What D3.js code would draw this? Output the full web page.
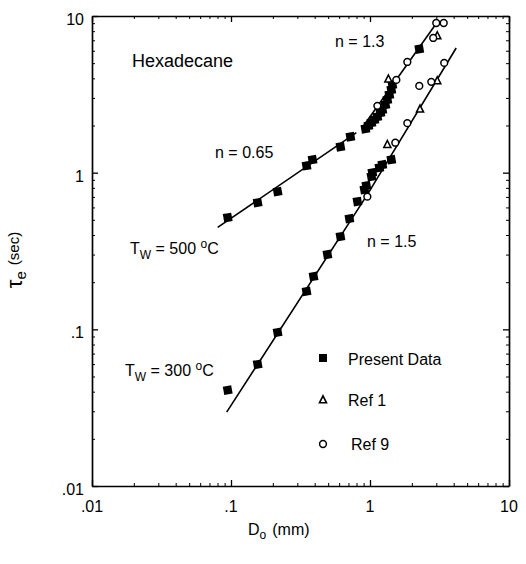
<!DOCTYPE html>
<html>
<head>
<meta charset="utf-8">
<script src="https://cdn.jsdelivr.net/npm/d3@7"></script>
<style>
  html, body { margin: 0; padding: 0; background: #fff; }
  svg { display: block; font-family: "Liberation Sans", Arial, Helvetica, sans-serif; }
</style>
</head>
<body>
<svg id="chart" width="526" height="564"></svg>
<script>
// ---- Data ----
const xTickValues = [0.01, 0.1, 1, 10];
const xTickLabels = [".01", ".1", "1", "10"];
const yTickValues = [0.01, 0.1, 1, 10];
const yTickLabels = [".01", ".1", "1", "10"];

// Present Data, Tw = 500 C
const present500X = [0.0947, 0.1555, 0.2164, 0.3495, 0.386, 0.613, 0.723, 0.927, 0.974, 1.024, 1.076, 1.13, 1.188, 1.227, 1.29, 1.333, 1.378, 1.424, 1.448, 2.262];
const present500Y = [0.517, 0.644, 0.757, 1.108, 1.21, 1.464, 1.696, 1.906, 1.992, 2.082, 2.176, 2.273, 2.411, 2.519, 2.711, 2.917, 3.14, 3.38, 3.64, 6.16];
// Present Data, Tw = 300 C
const present300X = [0.0947, 0.1555, 0.2164, 0.3495, 0.3925, 0.494, 0.613, 0.711, 0.812, 0.912, 0.942, 1.024, 1.04, 1.168, 1.227, 1.424];
const present300Y = [0.0409, 0.0598, 0.0957, 0.1746, 0.2176, 0.3003, 0.391, 0.509, 0.654, 0.779, 0.826, 0.943, 1.0, 1.076, 1.124, 1.21];
// Ref 1 (triangles)
const ref1X = [1.356, 3.047, 1.333, 2.29, 3.047];
const ref1Y = [3.95, 7.46, 1.508, 2.54, 3.85];
// Ref 9 (open circles)
const ref9X = [1.13, 1.547, 1.856, 2.85, 2.997, 3.39, 0.957, 1.521, 1.856, 2.262, 2.76, 3.42];
const ref9Y = [2.67, 3.91, 5.09, 7.24, 9.02, 9.02, 0.703, 1.553, 2.07, 3.58, 3.80, 5.02];

// Fitted lines
const fit065X = [0.0802, 0.798];
const fit065Y = [0.447, 1.80];
const fit13X = [0.881, 3.05];
const fit13Y = [1.94, 9.16];
const fit15X = [0.0931, 0.957, 4.17];
const fit15Y = [0.0296, 0.724, 6.25];

const legendLabels = ["Present Data", "Ref 1", "Ref 9"];

// ---- Layout ----
const svg = d3.select("#chart");
const L = 92, R = 509, T = 16, B = 486;
const x = d3.scaleLog().domain([0.01, 10]).range([L, R]);
const y = d3.scaleLog().domain([0.01, 10]).range([B, T]);

const minorVals = [];
[0.01, 0.1, 1].forEach(d => { for (let k = 2; k <= 9; k++) minorVals.push(d * k); });

function styleAxis(g) {
  g.selectAll("path.domain").attr("stroke", "#000").attr("stroke-width", 1.7);
  g.selectAll(".tick line").attr("stroke", "#000").attr("stroke-width", 1.3);
  g.selectAll(".tick text").remove();
}

// frame axes with major ticks (inward)
svg.append("g").attr("transform", `translate(0,${B})`)
  .call(d3.axisBottom(x).tickValues(xTickValues).tickSizeInner(-6).tickSizeOuter(0)).call(styleAxis);
svg.append("g").attr("transform", `translate(0,${T})`)
  .call(d3.axisTop(x).tickValues(xTickValues).tickSizeInner(-6).tickSizeOuter(0)).call(styleAxis);
svg.append("g").attr("transform", `translate(${L},0)`)
  .call(d3.axisLeft(y).tickValues(yTickValues).tickSizeInner(-6).tickSizeOuter(0)).call(styleAxis);
svg.append("g").attr("transform", `translate(${R},0)`)
  .call(d3.axisRight(y).tickValues(yTickValues).tickSizeInner(-6).tickSizeOuter(0)).call(styleAxis);
// minor ticks
function minorStyle(g) {
  g.select("path.domain").remove();
  g.selectAll(".tick line").attr("stroke", "#000").attr("stroke-width", 1);
  g.selectAll(".tick text").remove();
}
svg.append("g").attr("transform", `translate(0,${B})`)
  .call(d3.axisBottom(x).tickValues(minorVals).tickSizeInner(-3).tickSizeOuter(0)).call(minorStyle);
svg.append("g").attr("transform", `translate(0,${T})`)
  .call(d3.axisTop(x).tickValues(minorVals).tickSizeInner(-3).tickSizeOuter(0)).call(minorStyle);
svg.append("g").attr("transform", `translate(${L},0)`)
  .call(d3.axisLeft(y).tickValues(minorVals).tickSizeInner(-3).tickSizeOuter(0)).call(minorStyle);
svg.append("g").attr("transform", `translate(${R},0)`)
  .call(d3.axisRight(y).tickValues(minorVals).tickSizeInner(-3).tickSizeOuter(0)).call(minorStyle);

// tick labels
svg.append("g").selectAll("text").data(xTickValues).join("text")
  .attr("x", d => x(d)).attr("y", 512).attr("text-anchor", "middle")
  .attr("font-size", 16).text((d, i) => xTickLabels[i]);
svg.append("g").selectAll("text").data(yTickValues).join("text")
  .attr("x", 84).attr("y", d => y(d) + 9).attr("text-anchor", "end")
  .attr("font-size", 16).text((d, i) => yTickLabels[i]);

// axis titles
const xt = svg.append("text").attr("x", 248).attr("y", 535).attr("font-size", 16);
xt.append("tspan").text("D");
xt.append("tspan").attr("font-size", 12).attr("dy", 4).text("o");
xt.append("tspan").attr("dy", -4).attr("dx", 6).text("(mm)");

const yt = svg.append("text").attr("transform", "translate(22,260) rotate(-90)")
  .attr("text-anchor", "middle").attr("font-size", 16);
yt.append("tspan").attr("font-size", 22).text("τ");
yt.append("tspan").attr("font-size", 15).attr("dy", 4).text("e");
yt.append("tspan").attr("font-size", 15).attr("dy", -7).attr("dx", 6).text("(sec)");

// fit lines
const line = d3.line().x(d => x(d[0])).y(d => y(d[1]));
[[fit065X, fit065Y], [fit13X, fit13Y], [fit15X, fit15Y]].forEach(([xs, ys]) => {
  svg.append("path").datum(xs.map((v, i) => [v, ys[i]]))
    .attr("d", line).attr("fill", "none").attr("stroke", "#000").attr("stroke-width", 1.6);
});

// markers
const sq = 8.5;
function squares(xs, ys) {
  svg.append("g").selectAll("rect").data(xs.map((v, i) => [v, ys[i]])).join("rect")
    .attr("x", d => x(d[0]) - sq / 2).attr("y", d => y(d[1]) - sq / 2)
    .attr("width", sq).attr("height", sq).attr("fill", "#000")
    .attr("transform", d => `rotate(-10,${x(d[0])},${y(d[1])})`);
}
squares(present500X, present500Y);
squares(present300X, present300Y);

const triPath = (cx, cy, s) => `M${cx},${cy - s * 0.6}L${cx + s / 2},${cy + s * 0.4}L${cx - s / 2},${cy + s * 0.4}Z`;
svg.append("g").selectAll("path").data(ref1X.map((v, i) => [v, ref1Y[i]])).join("path")
  .attr("d", d => triPath(x(d[0]), y(d[1]), 7)).attr("fill", "#fff").attr("stroke", "#000").attr("stroke-width", 1.6);
svg.append("g").selectAll("circle").data(ref9X.map((v, i) => [v, ref9Y[i]])).join("circle")
  .attr("cx", d => x(d[0])).attr("cy", d => y(d[1])).attr("r", 3.4)
  .attr("fill", "#fff").attr("stroke", "#000").attr("stroke-width", 1.5);

// annotations
svg.append("text").attr("x", 132).attr("y", 67).attr("font-size", 18).text("Hexadecane");
svg.append("text").attr("x", 215).attr("y", 158).attr("font-size", 16).text("n = 0.65");
svg.append("text").attr("x", 335).attr("y", 47).attr("font-size", 16).text("n = 1.3");
svg.append("text").attr("x", 367).attr("y", 247).attr("font-size", 16).text("n = 1.5");

function tw(xp, yp, temp) {
  const t = svg.append("text").attr("x", xp).attr("y", yp).attr("font-size", 16);
  t.append("tspan").text("T");
  t.append("tspan").attr("font-size", 12).attr("dy", 5).text("W");
  t.append("tspan").attr("dy", -5).text(` = ${temp} `);
  t.append("tspan").attr("font-size", 12).attr("dy", -6).text("o");
  t.append("tspan").attr("dy", 6).text("C");
}
tw(130, 254, 500);
tw(125, 376, 300);

// legend
const lg = svg.append("g");
lg.append("rect").attr("x", 319).attr("y", 354).attr("width", 8).attr("height", 8).attr("fill", "#000");
lg.append("path").attr("d", triPath(323, 400, 7)).attr("fill", "#fff").attr("stroke", "#000").attr("stroke-width", 1.6);
lg.append("circle").attr("cx", 323).attr("cy", 444).attr("r", 3.4).attr("fill", "#fff").attr("stroke", "#000").attr("stroke-width", 1.5);
lg.append("text").attr("x", 348).attr("y", 365).attr("font-size", 16).text(legendLabels[0]);
lg.append("text").attr("x", 348).attr("y", 406).attr("font-size", 16).text(legendLabels[1]);
lg.append("text").attr("x", 351).attr("y", 450).attr("font-size", 16).text(legendLabels[2]);
</script>
</body>
</html>
